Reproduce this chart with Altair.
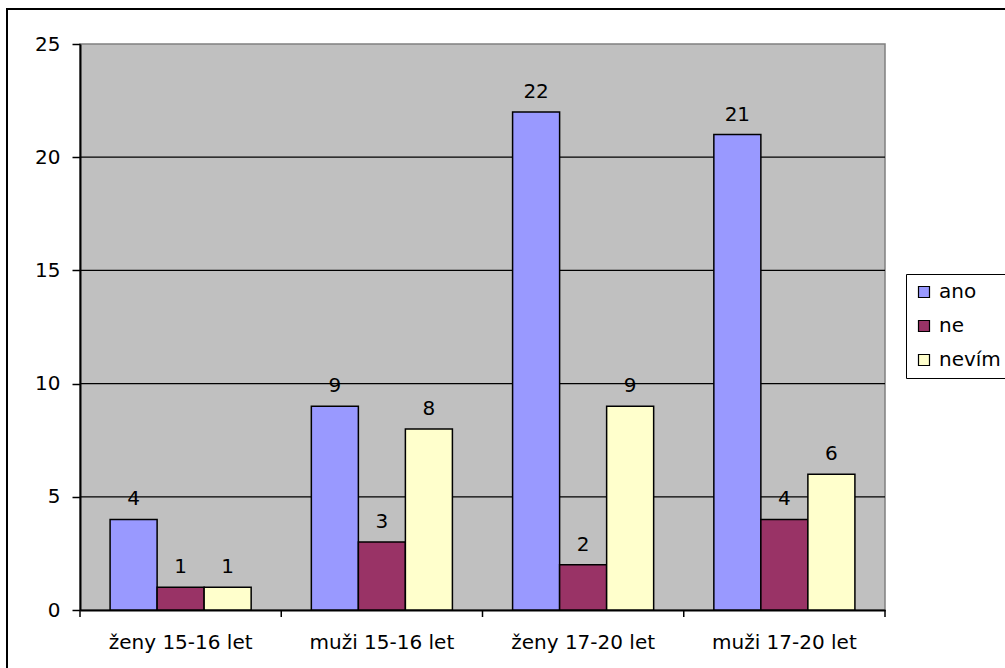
import altair as alt
import pandas as pd

# Survey answers per group
groups = ["ženy 15-16 let", "muži 15-16 let", "ženy 17-20 let", "muži 17-20 let"]
answers = ["ano", "ne", "nevím"]
ano = [4, 9, 22, 21]
ne = [1, 3, 2, 4]
nevim = [1, 8, 9, 6]
colors = ["#9999FF", "#993366", "#FFFFCC"]
grid_values = [5, 10, 15, 20]
y_ticks = [0, 5, 10, 15, 20, 25]

rows = []
for i, g in enumerate(groups):
    for a, vals in zip(answers, [ano, ne, nevim]):
        rows.append({"skupina": g, "odpoved": a, "pocet": vals[i]})
df = pd.DataFrame(rows)

W, H = 805, 566
FONT = "DejaVu Sans"

x_enc = alt.X(
    "skupina:N",
    sort=groups,
    scale=alt.Scale(paddingInner=0, paddingOuter=0),
    axis=alt.Axis(
        title=None, labelAngle=0, ticks=False, domainColor="black", domainWidth=2,
        labelFontSize=20, labelFont=FONT, labelColor="black", labelPadding=22,
    ),
)
y_scale = alt.Scale(domain=[0, 25], nice=False)
y_enc = alt.Y(
    "pocet:Q",
    scale=y_scale,
    axis=alt.Axis(
        title=None, values=y_ticks, grid=False, domainColor="black", domainWidth=2,
        tickColor="black", tickSize=8, tickWidth=1.5, labelFontSize=20,
        labelFont=FONT, labelColor="black", labelPadding=12,
    ),
)
xoff = alt.XOffset("odpoved:N", sort=answers,
                   scale=alt.Scale(paddingInner=0, paddingOuter=0.64))

grid = alt.Chart(pd.DataFrame({"g": grid_values})).mark_rule(
    color="black", strokeWidth=1.3
).encode(y=alt.Y("g:Q", scale=y_scale), x=alt.value(0), x2=alt.value(W))

bars = alt.Chart(df).mark_bar(stroke="black", strokeWidth=1.5).encode(
    x=x_enc,
    xOffset=xoff,
    y=y_enc,
    color=alt.Color(
        "odpoved:N",
        sort=answers,
        scale=alt.Scale(domain=answers, range=colors),
        legend=alt.Legend(
            title=None, orient="none", legendX=826, legendY=230,
            symbolType="square", symbolSize=121, symbolStrokeColor="black",
            symbolStrokeWidth=1.2, labelFontSize=20, labelFont=FONT,
            labelColor="black", rowPadding=14, padding=8, labelOffset=5,
            strokeColor="black", fillColor="white",
        ),
    ),
)

labels = alt.Chart(df).mark_text(
    font=FONT, fontSize=20, color="black", baseline="alphabetic", dy=-14
).encode(x=alt.X("skupina:N", sort=groups), xOffset=xoff, y="pocet:Q", text="pocet:Q")

cat_ticks = alt.Chart(pd.DataFrame({"skupina": groups})).mark_rule(
    color="black", strokeWidth=1.5
).encode(x=alt.X("skupina:N", sort=groups, bandPosition=0),
         y=alt.value(H), y2=alt.value(H + 7))

end_tick = alt.Chart(pd.DataFrame({"k": [0]})).mark_rule(
    color="black", strokeWidth=1.5
).encode(x=alt.value(W), y=alt.value(H), y2=alt.value(H + 7))

frame = alt.Chart(pd.DataFrame({"k": [0]})).mark_rect(
    fill=None, stroke="black", strokeWidth=2, clip=False
).encode(x=alt.value(-73), x2=alt.value(940), y=alt.value(-35), y2=alt.value(640))

chart = alt.layer(grid, bars, labels, cat_ticks, end_tick, frame).properties(
    width=W, height=H,
    autosize=alt.AutoSizeParams(type="none"),
    padding={"left": 80, "top": 44, "right": 120, "bottom": 58},
    background="white",
).configure_view(
    fill="#C0C0C0", stroke="#808080", strokeWidth=1.5
)

chart.save("out.html", embed_options={"renderer": "svg", "actions": False})
